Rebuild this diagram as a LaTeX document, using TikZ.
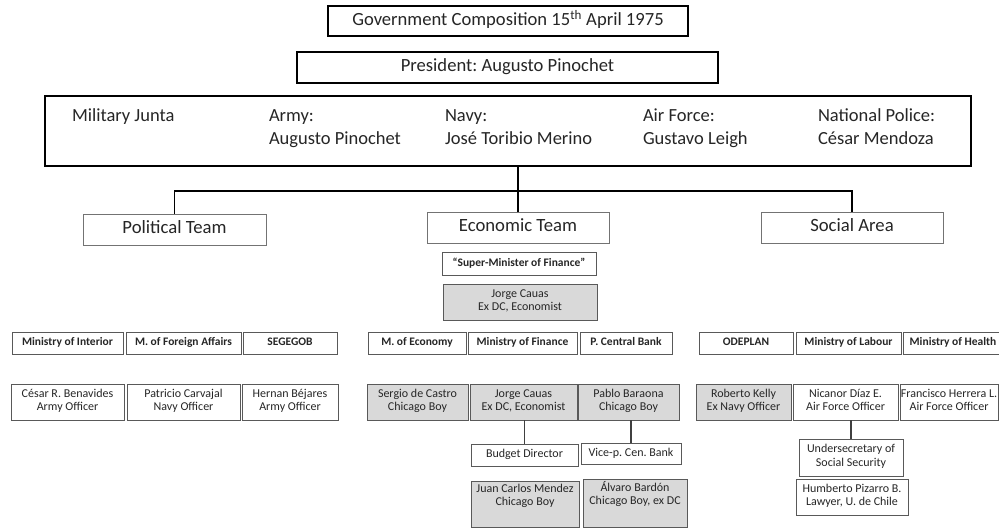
\documentclass[tikz,border=0pt]{standalone}
\usepackage{fontspec}
\setmainfont{Carlito}
\frenchspacing
\usetikzlibrary{calc}
\definecolor{boxgrey}{HTML}{D9D9D9}
\definecolor{txt}{HTML}{262626}
\newcommand{\bx}[7]{\node[#6, minimum width={(#4-#2)*1pt}, minimum height={(#5-#3)*1pt}] (#1) at ({(#2+#4)/2},{(#3+#5)/2}) {#7};}
\begin{document}
\begin{tikzpicture}[x=1pt,y=-1pt,
  every node/.style={inner sep=0pt, outer sep=0pt, text=txt},
  strutted/.style={execute at begin node=\strut, execute at end node=\strut},
  topbox/.style={strutted, draw=black, line width=1.6pt, fill=white, font=\fontsize{18.6}{20}\selectfont},
  teambox/.style={strutted, draw=black!55, line width=0.8pt, fill=white, font=\fontsize{18.7}{20}\selectfont},
  minbox/.style={strutted, draw=black!65, line width=0.9pt, fill=white, font=\bfseries\fontsize{11.5}{13}\selectfont},
  perbox/.style={strutted, draw=black!65, line width=0.9pt, fill=white, align=center, font=\fontsize{12}{13.5}\selectfont},
  greybox/.style={perbox, fill=boxgrey},
  juntatxt/.style={anchor=base west, font=\fontsize{18.5}{22}\selectfont},
  conn/.style={line width=1.5pt, draw=black},
  subconn/.style={line width=1.8pt, draw=black!75}]
\useasboundingbox (0,0) rectangle (999,529);
% top
\bx{title}{328}{6}{688}{36}{topbox}{Government Composition 15\textsuperscript{th} April 1975}
\bx{pres}{297}{52}{718}{83}{topbox}{President: Augusto Pinochet}
\bx{junta}{45}{96}{971}{166}{topbox}{}
\node[juntatxt] (jt) at (72,122) {Military Junta};
\node[juntatxt] (army1) at (269,122) {Army:};
\node[juntatxt] (army2) at (269,145) {Augusto Pinochet};
\node[juntatxt] (navy1) at (445,122) {Navy:};
\node[juntatxt] (navy2) at (445,145) {José Toribio Merino};
\node[juntatxt] (air1) at (643,122) {Air Force:};
\node[juntatxt] (air2) at (643,145) {Gustavo Leigh};
\node[juntatxt] (pol1) at (818,122) {National Police:};
\node[juntatxt] (pol2) at (818,145) {César Mendoza};
% teams
\bx{pol}{83}{214}{266}{245}{teambox}{Political Team}
\bx{econ}{427}{212}{609}{243}{teambox}{Economic Team}
\bx{soc}{761}{212}{943}{243}{teambox}{Social Area}
\draw[conn] (junta.south -| econ.north) -- (econ.north);
\draw[conn] (pol.north) -- ++(0,-23) -| (soc.north);
% economic head
\bx{super}{442}{252}{596}{275}{minbox}{“Super-Minister of Finance”}
\bx{cauas}{443}{284}{597}{320}{greybox}{Jorge Cauas\\Ex DC, Economist}
% ministries
\bx{mint}{12}{332}{123}{354}{minbox}{Ministry of Interior}
\bx{mfor}{126}{332}{241}{354}{minbox}{M. of Foreign Affairs}
\bx{segegob}{243}{332}{337}{354}{minbox}{SEGEGOB}
\bx{meco}{368}{332}{466}{354}{minbox}{M. of Economy}
\bx{mfin}{468}{332}{577}{354}{minbox}{Ministry of Finance}
\bx{pcb}{580}{332}{672}{354}{minbox}{P. Central Bank}
\bx{odeplan}{699}{332}{793}{354}{minbox}{ODEPLAN}
\bx{mlab}{796}{332}{901}{354}{minbox}{Ministry of Labour}
\bx{mhea}{903}{332}{1003}{354}{minbox}{Ministry of Health}
% persons
\bx{benav}{11}{384}{124}{420}{perbox}{César R. Benavides\\Army Officer}
\bx{carva}{127}{384}{240}{420}{perbox}{Patricio Carvajal\\Navy Officer}
\bx{bejar}{242}{384}{338}{420}{perbox}{Hernan Béjares\\Army Officer}
\bx{castro}{367}{384}{468}{420}{greybox}{Sergio de Castro\\Chicago Boy}
\bx{cauas2}{470}{384}{577}{420}{greybox}{Jorge Cauas\\Ex DC, Economist}
\bx{baraona}{578}{384}{679}{420}{greybox}{Pablo Baraona\\Chicago Boy}
\bx{kelly}{696}{384}{791}{420}{greybox}{Roberto Kelly\\Ex Navy Officer}
\bx{diaz}{793}{384}{898}{420}{perbox}{Nicanor Díaz E.\\Air Force Officer}
\bx{herrera}{900}{384}{998}{420}{perbox}{Francisco Herrera L.\\Air Force Officer}
% sub levels
\bx{budget}{471}{444}{578}{466}{perbox}{Budget Director}
\bx{vice}{581}{443}{681}{464}{perbox}{Vice-p. Cen. Bank}
\bx{mendez}{471}{481}{579}{527}{greybox}{}
\node[align=center, anchor=north, strutted, font=\fontsize{12}{13.5}\selectfont] (mendezt) at (525,484) {Juan Carlos Mendez\\Chicago Boy};
\bx{bardon}{583}{479}{687}{527}{greybox}{}
\node[align=center, anchor=north, strutted, font=\fontsize{12}{13.5}\selectfont] (bardont) at (635,481) {Álvaro Bardón\\Chicago Boy, ex DC};
\bx{under}{799}{439}{903}{476}{perbox}{Undersecretary of\\Social Security}
\bx{pizarro}{796}{479}{908}{515}{perbox}{Humberto Pizarro B.\\Lawyer, U. de Chile}
\draw[subconn] (cauas2.south -| budget.north) -- (budget.north);
\draw[subconn] (baraona.south -| vice.north) -- (vice.north);
\draw[subconn] (diaz.south -| under.north) -- (under.north);
\end{tikzpicture}
\end{document}
